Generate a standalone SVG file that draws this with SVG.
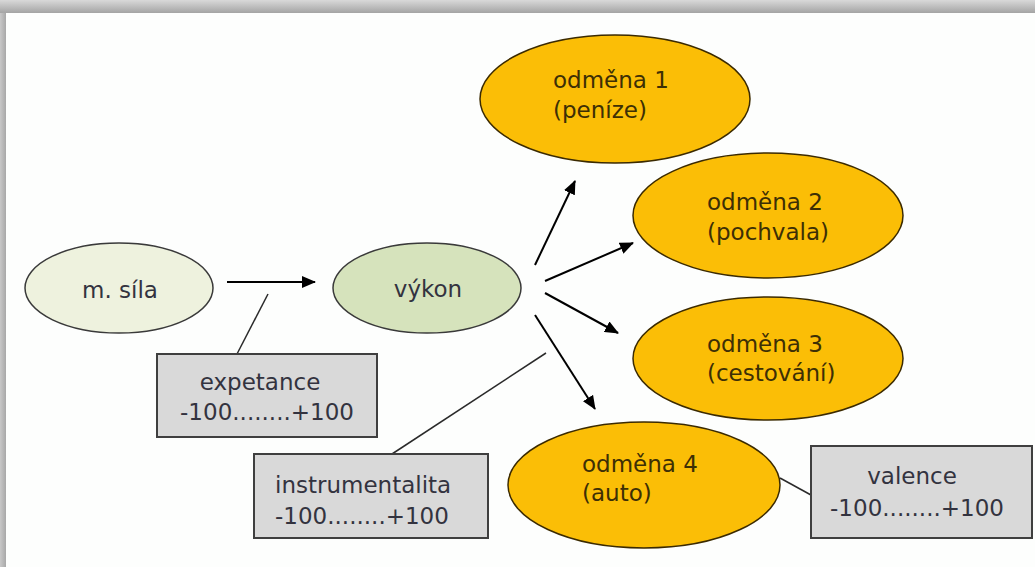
<svg xmlns="http://www.w3.org/2000/svg" width="1035" height="567" viewBox="0 0 1035 567">
  <defs>
    <linearGradient id="topShade" x1="0" y1="0" x2="0" y2="1">
      <stop offset="0" stop-color="#d9d9d9"/>
      <stop offset="1" stop-color="#a4a4a4"/>
    </linearGradient>
    <linearGradient id="leftShade" x1="0" y1="0" x2="1" y2="0">
      <stop offset="0" stop-color="#c8c8c8"/>
      <stop offset="1" stop-color="#a8a8a8"/>
    </linearGradient>
    <marker id="arrow" viewBox="0 0 14 12" refX="13" refY="6" markerWidth="14" markerHeight="12" markerUnits="userSpaceOnUse" orient="auto">
      <path d="M0,0 L14,6 L0,12 Z" fill="#000"/>
    </marker>
    <style>
      .txt { font-family: "DejaVu Sans", Verdana, sans-serif; font-size: 23px; }
      .grey { fill: #33333f; }
      .dark { fill: #3d2f05; }
      .light { fill: #eef2de; stroke: #3a3a3a; stroke-width: 1.5; }
      .green { fill: #d6e3bc; stroke: #3a3a3a; stroke-width: 1.5; }
      .orange { fill: #fbbe06; stroke: #3b2a00; stroke-width: 1.5; }
      .box { fill: #d9d9d9; stroke: #3f3f3f; stroke-width: 2; }
      .conn { stroke: #000; stroke-width: 2; fill: none; }
      .lead { stroke: #2a2a2a; stroke-width: 1.5; fill: none; }
    </style>
  </defs>

  <!-- frame -->
  <rect x="0" y="0" width="1035" height="567" fill="#fdfefd"/>
  <rect x="0" y="0" width="1035" height="13" fill="url(#topShade)"/>
  <rect x="0" y="13" width="6" height="554" fill="url(#leftShade)"/>

  <!-- connectors -->
  <g id="connectors">
    <line class="conn" x1="227" y1="282" x2="315" y2="282" marker-end="url(#arrow)"/>
    <line class="conn" x1="535" y1="265" x2="575" y2="181" marker-end="url(#arrow)"/>
    <line class="conn" x1="545" y1="281" x2="633" y2="243" marker-end="url(#arrow)"/>
    <line class="conn" x1="545" y1="293" x2="618" y2="333" marker-end="url(#arrow)"/>
    <line class="conn" x1="535" y1="315" x2="595" y2="409" marker-end="url(#arrow)"/>
    <line class="lead" x1="268" y1="294" x2="237" y2="354"/>
    <line class="lead" x1="546" y1="353" x2="392" y2="454"/>
    <line class="lead" x1="780" y1="478" x2="811" y2="495"/>
  </g>

  <g id="m-sila">
    <ellipse class="light" cx="119" cy="288" rx="94" ry="45"/>
    <text class="txt grey" x="120" y="298" text-anchor="middle">m. síla</text>
  </g>

  <g id="vykon">
    <ellipse class="green" cx="427" cy="288" rx="94" ry="45"/>
    <text class="txt grey" x="428" y="297" text-anchor="middle">výkon</text>
  </g>

  <g id="odmena1">
    <ellipse class="orange" cx="615" cy="99" rx="135" ry="64"/>
    <text class="txt dark" x="553" y="88">odměna 1</text>
    <text class="txt dark" x="553" y="118">(peníze)</text>
  </g>

  <g id="odmena2">
    <ellipse class="orange" cx="768" cy="215.5" rx="135" ry="62.5"/>
    <text class="txt dark" x="707" y="210">odměna 2</text>
    <text class="txt dark" x="707" y="240">(pochvala)</text>
  </g>

  <g id="odmena3">
    <ellipse class="orange" cx="768" cy="358.5" rx="135" ry="61.5"/>
    <text class="txt dark" x="707" y="352">odměna 3</text>
    <text class="txt dark" x="707" y="381">(cestování)</text>
  </g>

  <g id="odmena4">
    <ellipse class="orange" cx="644" cy="485" rx="136" ry="63"/>
    <text class="txt dark" x="582" y="472">odměna 4</text>
    <text class="txt dark" x="582" y="501">(auto)</text>
  </g>

  <g id="expetance">
    <rect class="box" x="157" y="354" width="220" height="83"/>
    <text class="txt grey" x="260" y="390" text-anchor="middle">expetance</text>
    <text class="txt grey" x="267" y="420" text-anchor="middle">-100........+100</text>
  </g>

  <g id="instrumentalita">
    <rect class="box" x="254" y="454" width="234" height="84"/>
    <text class="txt grey" x="275" y="493">instrumentalita</text>
    <text class="txt grey" x="275" y="524">-100........+100</text>
  </g>

  <g id="valence">
    <rect class="box" x="811" y="446" width="221" height="92"/>
    <text class="txt grey" x="912" y="484" text-anchor="middle">valence</text>
    <text class="txt grey" x="917" y="516" text-anchor="middle">-100........+100</text>
  </g>
</svg>
